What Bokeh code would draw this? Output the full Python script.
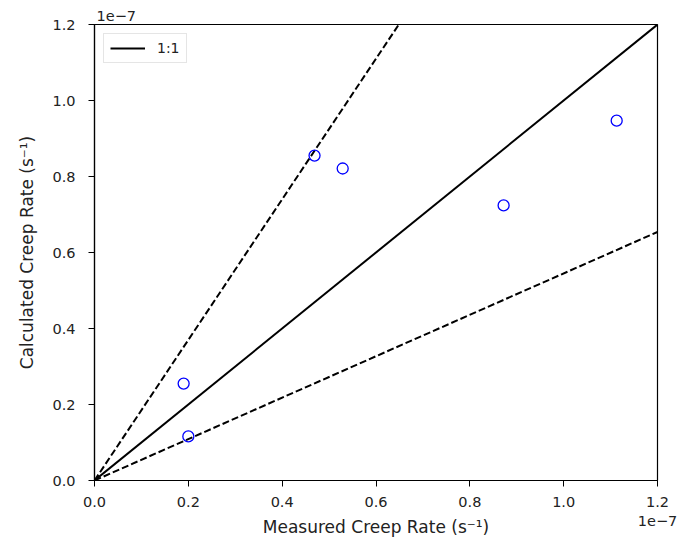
from bokeh.plotting import figure
from bokeh.models import Range1d, FixedTicker, NumeralTickFormatter, Legend, LegendItem, Title, LinearAxis
from bokeh.embed import file_html
from bokeh.resources import INLINE

# data in units of 1e-7 s^-1
measured = [0.190, 0.200, 0.469, 0.529, 0.872, 1.113]
calculated = [0.255, 0.116, 0.855, 0.821, 0.724, 0.947]
ticks = [0.0, 0.2, 0.4, 0.6, 0.8, 1.0, 1.2]
one_to_one_slope = 1.0
band_slopes = [1.85, 0.545]
axis_max = 1.2

FONT = "DejaVu Sans"

p = figure(width=677, height=545, output_backend="svg", toolbar_location=None,
           x_range=Range1d(0, axis_max), y_range=Range1d(0, axis_max),
           min_border_left=94, min_border_right=20, min_border_top=24, min_border_bottom=65)
p.xgrid.visible = False
p.ygrid.visible = False
p.outline_line_color = "black"
p.outline_line_width = 1.2
p.background_fill_color = "white"
p.border_fill_color = "white"

for ax in (p.xaxis[0], p.yaxis[0]):
    ax.ticker = FixedTicker(ticks=ticks)
    ax.formatter = NumeralTickFormatter(format="0.0")
    ax.minor_tick_line_color = None
    ax.major_tick_out = 6
    ax.major_tick_in = 0
    ax.major_tick_line_color = "black"
    ax.axis_line_color = "black"
    ax.axis_line_width = 1.2
    ax.major_label_text_font = FONT
    ax.major_label_text_font_size = "14.5px"
    ax.major_label_text_color = "#222222"
    ax.axis_label_text_font = FONT
    ax.axis_label_text_font_size = "17px"
    ax.axis_label_text_font_style = "normal"
    ax.axis_label_text_color = "#222222"

# main x axis carries the offset text "1e-7" at its right end
xa = p.xaxis[0]
xa.axis_label = "1e\u22127"
xa.axis_label_align = "end"
xa.axis_label_text_font_size = "14.5px"
xa.axis_label_standoff = 6
xa.major_label_standoff = 10

# second, bare axis below carries the x title
xa2 = LinearAxis(ticker=FixedTicker(ticks=[]), axis_line_color=None,
                 major_tick_line_color=None, minor_tick_line_color=None,
                 axis_label="Measured Creep Rate (s\u207b\u00b9)",
                 axis_label_text_font=FONT, axis_label_text_font_size="17px",
                 axis_label_text_font_style="normal", axis_label_text_color="#222222",
                 axis_label_standoff=-12)
p.add_layout(xa2, "below")

p.yaxis.axis_label = "Calculated Creep Rate (s\u207b\u00b9)"
p.yaxis.major_label_standoff = 13
p.yaxis.axis_label_standoff = 12

xs = [0.0, axis_max]
r11 = p.line(xs, [one_to_one_slope * x for x in xs], line_color="black", line_width=2)
for s in band_slopes:
    p.line(xs, [s * x for x in xs], line_color="black", line_width=2, line_dash="7 3")

p.scatter(measured, calculated, marker="circle", size=11, fill_color=None,
          line_color="blue", line_width=1.3)

legend = Legend(items=[LegendItem(label="1:1", renderers=[r11])], location="top_left")
legend.label_text_font = FONT
legend.label_text_font_size = "14px"
legend.label_text_color = "#222222"
legend.border_line_color = "#cccccc"
legend.border_line_width = 1
legend.background_fill_color = "white"
legend.background_fill_alpha = 0.8
legend.glyph_width = 35
legend.glyph_height = 14
legend.padding = 6
legend.margin = 9
legend.label_standoff = 12
p.add_layout(legend)

top_mult = Title(text="1e\u22127", align="left", text_font=FONT, text_font_size="14.5px",
                 text_color="#222222", text_font_style="normal", offset=2, standoff=8)
p.add_layout(top_mult, "above")

open("out.html", "w").write(file_html(p, INLINE))
